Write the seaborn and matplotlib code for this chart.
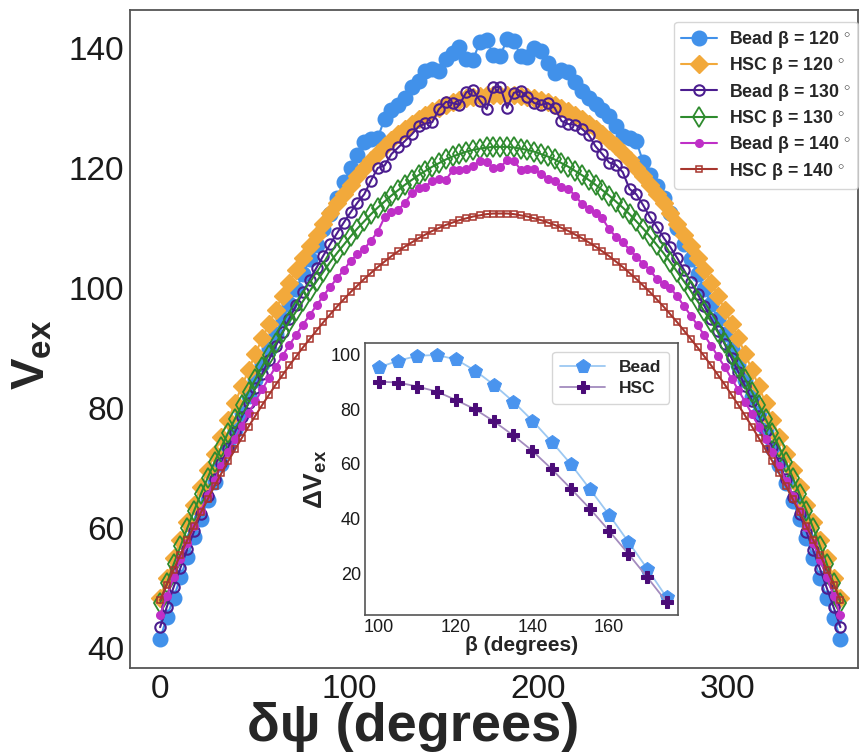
import numpy as np
import matplotlib
matplotlib.use('Agg')
import matplotlib.pyplot as plt
import seaborn as sns

sns.set_style('white')
plt.rcParams['font.family'] = ['Liberation Sans', 'DejaVu Sans']
plt.rcParams['mathtext.fontset'] = 'custom'
plt.rcParams['mathtext.rm'] = 'Liberation Sans'
plt.rcParams['mathtext.bf'] = 'Liberation Sans:bold'

# dihedral offset grid (degrees)
dpsi = np.round(np.arange(101) * 3.6, 1)

bead_120 = [41.5, 45.2, 48.4, 51.8, 55.2, 58.5, 61.6, 64.6, 67.6, 70.6,
            73.5, 76.4, 79.2, 82.0, 84.7, 87.3, 89.9, 92.4, 94.9, 97.4,
            99.8, 102.3, 104.8, 107.2, 109.8, 112.4, 115.0, 117.6, 120.0, 122.2,
            124.3, 124.8, 125.0, 128.2, 129.7, 130.5, 131.6, 133.4, 134.4, 136.2,
            136.4, 136.1, 138.2, 139.2, 140.2, 138.2, 138.0, 141.0, 141.3, 138.8,
            138.7, 141.4, 141.2, 138.6, 138.4, 140.0, 139.5, 137.5, 135.8, 136.3,
            136.0, 134.3, 132.8, 131.6, 130.6, 129.6, 128.6, 127.0, 125.3, 125.0,
            124.4, 121.0, 118.8, 117.0, 115.0, 112.5, 110.0, 107.4, 104.9, 102.3,
            99.8, 97.3, 94.8, 92.3, 89.8, 87.2, 84.6, 81.9, 79.1, 76.3,
            73.4, 70.5, 67.5, 64.5, 61.5, 58.4, 55.1, 51.7, 48.3, 45.1,
            41.5]
hsc_120 = [48.3, 51.7, 55.0, 58.1, 61.0, 63.9, 66.8, 69.6, 72.4, 75.2,
           78.0, 80.8, 83.6, 86.3, 89.0, 91.6, 94.0, 96.4, 98.7, 100.9,
           103.0, 105.0, 107.0, 108.9, 110.7, 112.5, 114.1, 115.7, 117.2, 118.6,
           120.0, 121.3, 122.5, 123.6, 124.6, 125.6, 126.5, 127.3, 128.1, 128.8,
           129.4, 130.0, 130.5, 130.9, 131.3, 131.6, 131.8, 132.0, 132.1, 132.2,
           132.2, 132.2, 132.1, 132.0, 131.8, 131.6, 131.3, 130.9, 130.5, 130.0,
           129.4, 128.8, 128.1, 127.3, 126.5, 125.6, 124.6, 123.6, 122.5, 121.3,
           120.0, 118.6, 117.2, 115.7, 114.1, 112.5, 110.7, 108.9, 107.0, 105.0,
           103.0, 100.9, 98.7, 96.4, 94.0, 91.6, 89.0, 86.3, 83.6, 80.8,
           78.0, 75.2, 72.4, 69.6, 66.8, 63.9, 61.0, 58.1, 55.0, 51.7,
           48.3]
bead_130 = [43.5, 46.9, 50.2, 53.4, 56.5, 59.5, 62.4, 65.3, 68.1, 70.8,
            73.4, 76.0, 78.5, 80.9, 83.3, 85.7, 88.0, 90.3, 92.6, 94.9,
            97.1, 99.3, 101.4, 103.4, 105.4, 107.3, 109.1, 110.9, 112.6, 114.2,
            115.6, 117.9, 120.0, 120.4, 122.3, 123.4, 124.5, 125.6, 126.9, 127.4,
            127.6, 129.8, 131.0, 130.8, 130.5, 132.6, 133.0, 131.2, 129.8, 133.4,
            133.5, 130.0, 132.5, 132.8, 131.8, 130.8, 130.5, 130.8, 130.0, 127.8,
            127.3, 127.2, 126.5, 125.5, 123.6, 122.3, 120.9, 120.5, 119.3, 116.5,
            115.6, 113.8, 111.8, 110.2, 108.4, 106.8, 105.0, 103.0, 101.0, 99.0,
            97.0, 94.9, 92.8, 90.6, 88.3, 86.0, 83.6, 81.2, 78.7, 76.1,
            73.5, 70.8, 68.1, 65.2, 62.3, 59.4, 56.3, 53.2, 50.0, 46.8,
            43.5]
hsc_130 = [47.5, 50.8, 54.0, 57.0, 60.0, 62.9, 65.7, 68.4, 71.0, 73.5,
           75.9, 78.2, 80.5, 82.7, 84.8, 86.9, 88.9, 90.8, 92.6, 94.4,
           96.1, 97.8, 99.5, 101.1, 102.7, 104.3, 105.8, 107.2, 108.6, 109.9,
           111.1, 112.3, 113.4, 114.4, 115.4, 116.3, 117.2, 118.0, 118.8, 119.5,
           120.2, 120.8, 121.4, 121.9, 122.3, 122.7, 123.0, 123.2, 123.4, 123.5,
           123.5, 123.5, 123.4, 123.2, 123.0, 122.7, 122.3, 121.9, 121.4, 120.8,
           120.2, 119.5, 118.8, 118.0, 117.2, 116.3, 115.4, 114.4, 113.4, 112.3,
           111.1, 109.9, 108.6, 107.2, 105.8, 104.3, 102.7, 101.1, 99.5, 97.8,
           96.1, 94.4, 92.6, 90.8, 88.9, 86.9, 84.8, 82.7, 80.5, 78.2,
           75.9, 73.5, 71.0, 68.4, 65.7, 62.9, 60.0, 57.0, 54.0, 50.8,
           47.5]
bead_140 = [45.5, 48.7, 51.8, 54.8, 57.6, 60.3, 62.9, 65.5, 68.0, 70.4,
            72.7, 74.9, 77.0, 79.1, 81.1, 83.1, 85.0, 86.9, 88.7, 90.5,
            92.2, 93.9, 95.5, 97.1, 98.7, 100.2, 101.6, 103.0, 104.5, 105.6,
            106.5, 107.9, 109.4, 111.8, 112.6, 113.0, 114.2, 115.8, 116.6, 116.9,
            117.9, 118.1, 118.0, 119.6, 119.7, 119.8, 120.4, 121.2, 121.0, 120.0,
            120.1, 121.3, 121.2, 119.7, 119.9, 119.8, 119.0, 118.2, 117.9, 116.8,
            116.5, 115.4, 114.0, 113.2, 112.5, 111.6, 109.8, 108.5, 107.6, 106.4,
            105.2, 104.0, 103.0, 101.5, 100.7, 100.0, 98.6, 97.0, 95.4, 93.8,
            92.1, 90.4, 88.6, 86.8, 84.9, 83.0, 81.0, 79.0, 76.9, 74.8,
            72.6, 70.3, 67.9, 65.4, 62.8, 60.2, 57.5, 54.7, 51.8, 48.7,
            45.5]
hsc_140 = [48.0, 50.6, 53.1, 55.6, 58.0, 60.3, 62.6, 64.8, 67.0, 69.1,
           71.1, 73.1, 75.0, 76.9, 78.7, 80.5, 82.2, 83.9, 85.5, 87.1,
           88.6, 90.1, 91.5, 92.9, 94.3, 95.6, 96.9, 98.1, 99.3, 100.4,
           101.5, 102.5, 103.5, 104.4, 105.3, 106.1, 106.9, 107.6, 108.3, 108.9,
           109.5, 110.0, 110.5, 110.9, 111.3, 111.6, 111.9, 112.1, 112.3, 112.4,
           112.4, 112.4, 112.3, 112.1, 111.9, 111.6, 111.3, 110.9, 110.5, 110.0,
           109.5, 108.9, 108.3, 107.6, 106.9, 106.1, 105.3, 104.4, 103.5, 102.5,
           101.5, 100.4, 99.3, 98.1, 96.9, 95.6, 94.3, 92.9, 91.5, 90.1,
           88.6, 87.1, 85.5, 83.9, 82.2, 80.5, 78.7, 76.9, 75.0, 73.1,
           71.1, 69.1, 67.0, 64.8, 62.6, 60.3, 58.0, 55.6, 53.1, 50.6,
           48.0]

# inset: barrier height vs bond angle
beta = [100, 105, 110, 115, 120, 125, 130, 135, 140, 145, 150, 155, 160, 165, 170, 175]
dv_bead = [95.5, 97.9, 99.7, 100.0, 98.4, 94.3, 89.0, 82.9, 75.9, 68.2, 60.0, 50.8, 41.4, 31.5, 21.5, 11.1]
dv_hsc = [90.2, 89.9, 88.4, 86.6, 83.5, 80.1, 75.6, 70.5, 64.8, 58.2, 51.0, 43.6, 35.5, 27.1, 18.4, 9.4]

fig = plt.figure(figsize=(8.6, 7.53), dpi=100)
ax = fig.add_axes([0.1512, 0.1129, 0.8465, 0.8738])

styles = [
    ('Bead β = 120 $^{\\circ}$', bead_120, '#4191EA', 'o', 10.5, None, 1.0),
    ('HSC β = 120 $^{\\circ}$', hsc_120, '#F2A93B', 'D', 9.5, None, 1.0),
    ('Bead β = 130 $^{\\circ}$', bead_130, '#4B1D8F', 'o', 7.5, 'none', 1.5),
    ('HSC β = 130 $^{\\circ}$', hsc_130, '#2E8B2E', 'd', 10, 'none', 1.3),
    ('Bead β = 140 $^{\\circ}$', bead_140, '#BF2FC7', 'o', 5.5, None, 1.0),
    ('HSC β = 140 $^{\\circ}$', hsc_140, '#A8362E', 's', 5.0, 'none', 1.1),
]
for label, vals, col, mk, ms, mfc, mew in styles:
    sns.lineplot(x=dpsi, y=vals, ax=ax, color=col, marker=mk, markersize=ms,
                 markerfacecolor=col if mfc is None else mfc, markeredgecolor=col,
                 markeredgewidth=mew, linewidth=1.5, label=label)

ax.set_xlim(-15.9, 369.3)
ax.set_ylim(36.7, 146.3)
ax.set_xticks([0, 100, 200, 300])
ax.set_yticks([40, 60, 80, 100, 120, 140])
ax.tick_params(direction='in', length=8, width=1.2, labelsize=24, color='#444444',
               labelcolor='#1a1a1a', pad=4)
for sp in ax.spines.values():
    sp.set_color('#555555')
    sp.set_linewidth(1.3)
ax.set_xlabel('δψ (degrees)', fontsize=39, fontweight='bold')
ax.set_ylabel('$\\mathbf{V_{ex}}$', fontsize=34)
ax.xaxis.set_label_coords(0.389, -0.1110)
ax.xaxis.label.set_verticalalignment('baseline')
ax.yaxis.set_label_coords(-0.104, 0.476)
ax.legend(loc='upper right', prop={'weight': 'bold', 'size': 12.8},
          handlelength=2.0, handletextpad=0.7, frameon=True, fancybox=True,
          edgecolor='#cccccc', borderpad=0.4, labelspacing=0.3, borderaxespad=0,
          bbox_to_anchor=(1.0, 0.982))

# inset
ins = fig.add_axes([0.4244, 0.1833, 0.364, 0.3612])
sns.lineplot(x=beta, y=dv_bead, ax=ins, color='#9CC8F2', linewidth=1.3, marker='p',
             markersize=10, markerfacecolor='#4A94EE', markeredgecolor='#4A94EE',
             label='Bead')
sns.lineplot(x=beta, y=dv_hsc, ax=ins, color='#A38BBE', linewidth=1.3, marker='P',
             markersize=9, markerfacecolor='#4B0C78', markeredgecolor='#4B0C78',
             label='HSC')
ins.set_xlim(96.3, 178)
ins.set_ylim(4.6, 104.4)
ins.set_xticks([100, 120, 140, 160])
ins.set_yticks([20, 40, 60, 80, 100])
ins.tick_params(direction='in', length=0, labelsize=13, labelcolor='#1a1a1a', pad=3)
for sp in ins.spines.values():
    sp.set_color('#555555')
    sp.set_linewidth(1.2)
ins.set_xlabel('β (degrees)', fontsize=15, fontweight='bold', labelpad=0)
ins.set_ylabel('$\\mathbf{\\Delta V_{ex}}$', fontsize=19, labelpad=1)
ins.legend(loc='upper right', prop={'weight': 'bold', 'size': 12.5}, handlelength=2.6,
           frameon=True, fancybox=True, edgecolor='#cccccc', borderpad=0.45,
           labelspacing=0.35)

fig.savefig('out.png', dpi=100)
